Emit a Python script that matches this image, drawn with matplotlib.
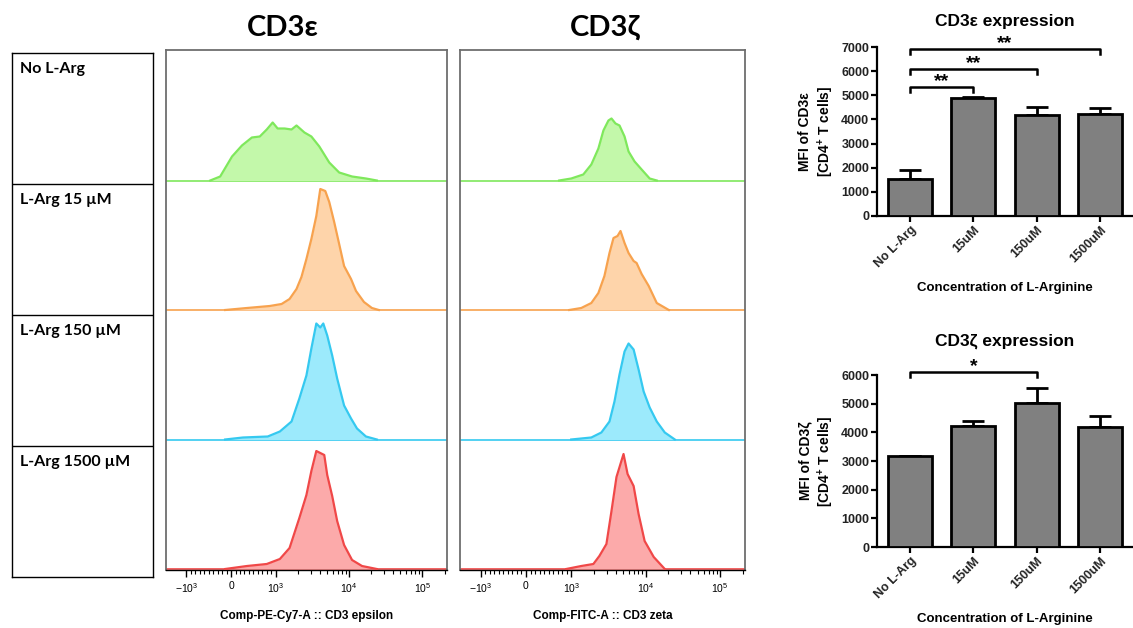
import numpy as np
import matplotlib
matplotlib.use('Agg')
import matplotlib.pyplot as plt

plt.rcParams['mathtext.fontset'] = 'custom'
plt.rcParams['mathtext.rm'] = 'Liberation Sans'
plt.rcParams['mathtext.bf'] = 'Liberation Sans:bold'

# ---- data ----
row_labels = ['No L-Arg', 'L-Arg 15 µM', 'L-Arg 150 µM', 'L-Arg 1500 µM']

# CD3 epsilon histograms (fluorescence, relative count)
eps_none_x = [-467, -244, 22, 244, 467, 644, 800, 933, 1064, 1324, 1645, 1923, 2466, 3065, 3933, 5370, 7330, 10990, 16980, 23880]
eps_none_y = [0, 4, 24, 35, 43, 44, 51, 58, 52, 52, 51, 55, 48, 44, 34, 18, 8, 4, 2, 0]
eps_15_x = [-133, 356, 867, 1205, 1546, 1923, 2245, 2624, 3065, 3580, 4054, 4741, 5370, 6270, 7330, 8556, 10640, 12440, 15960, 20470, 25420]
eps_15_y = [0, 2, 4, 6, 11, 21, 33, 51, 71, 94, 121, 119, 108, 88, 66, 44, 31, 19, 8, 2, 0]
eps_150_x = [-133, 267, 822, 1141, 1645, 2102, 2624, 3065, 3580, 4054, 4454, 5043, 5892, 6887, 8556, 10640, 12830, 16980, 23880]
eps_150_y = [0, 2, 3, 8, 18, 41, 64, 91, 116, 112, 116, 104, 84, 61, 34, 21, 11, 3, 0]
eps_1500_x = [-133, 356, 800, 1141, 1546, 2102, 2624, 3065, 3580, 4593, 5043, 5892, 6887, 8556, 10990, 15010, 23880]
eps_1500_y = [0, 3, 5, 10, 21, 51, 74, 98, 118, 114, 94, 73, 48, 24, 9, 3, 0]

# CD3 zeta histograms
zeta_none_x = [733, 1000, 1452, 1862, 2317, 2706, 3162, 3474, 3933, 4454, 5203, 5892, 7097, 8826, 11320, 14090]
zeta_none_y = [0, 2, 6, 16, 32, 50, 60, 62, 57, 55, 44, 29, 19, 11, 2, 0]
zeta_15_x = [956, 1365, 1862, 2317, 2792, 3266, 3698, 4188, 4592, 5203, 5892, 6887, 7553, 8826, 10990, 14090, 20470]
zeta_15_y = [0, 2, 7, 17, 34, 57, 72, 74, 79, 67, 57, 49, 47, 36, 24, 7, 0]
zeta_150_x = [1000, 1862, 2541, 3266, 3811, 4454, 5203, 5892, 6887, 8035, 9393, 11320, 14090, 18060, 24650]
zeta_150_y = [0, 2, 7, 18, 38, 65, 88, 96, 90, 70, 48, 32, 18, 7, 0]
zeta_1500_x = [889, 1365, 1983, 2388, 2970, 3474, 4054, 5043, 5715, 6887, 8035, 9683, 12830, 18060]
zeta_1500_y = [0, 3, 5, 13, 25, 58, 92, 115, 95, 83, 55, 28, 12, 0]

hist_ticks = [-1000, 0, 1000, 10000, 100000]
hist_ticklabels = ['$-10^3$', '0', '$10^3$', '$10^4$', '$10^5$']

# bar charts
bar_labels = ['No L-Arg', '15uM', '150uM', '1500uM']
eps_mfi = [1530, 4890, 4170, 4240]
eps_sem = [390, 30, 350, 240]
zeta_mfi = [3170, 4220, 5010, 4200]
zeta_sem = [0, 190, 520, 380]
eps_sig = [(0, 1, 5350, '**'), (0, 2, 6100, '**'), (0, 3, 6930, '**')]
zeta_sig = [(0, 2, 6120, '*')]

line_cols = ['#7fe85c', '#f7a24e', '#35c9f0', '#f04848']
fill_cols = ['#c3f8aa', '#fed4aa', '#9ceafc', '#fcaaaa']

W, H = 1133, 628
fig = plt.figure(figsize=(W / 100, H / 100), dpi=100)


def px_axes(x0, y0, x1, y1):
    return fig.add_axes([x0 / W, 1 - y1 / H, (x1 - x0) / W, (y1 - y0) / H])


lab_font = ['Lato', 'Open Sans', 'DejaVu Sans']

# ---- left label box ----
lab = px_axes(12, 53, 153, 577)
lab.set_xlim(0, 1)
lab.set_ylim(0, 4)
lab.set_xticks([])
lab.set_yticks([])
for s in lab.spines.values():
    s.set_linewidth(1.0)
for i, t in enumerate(row_labels):
    if i > 0:
        lab.axhline(4 - i, color='black', lw=1.0)
    lab.text(0.06, 4 - i - 0.065, t, ha='left', va='top', fontsize=11.5,
             fontweight='bold', family=lab_font)

# ---- histograms ----
def draw_hist(x0, x1, curves, xlabel, title, title_x):
    ax = px_axes(x0, 50, x1, 570)
    ax.set_xscale('symlog', linthresh=1000, linscale=0.547)
    ax.set_xlim(-1900, 216000)
    ax.set_ylim(0, 520)
    for i, (xs, ys) in enumerate(curves):
        base = (3 - i) * 129.5 + 1
        ax.axhline(base, color=line_cols[i], lw=1.2, zorder=1)
        top = np.array(ys) + base
        ax.fill_between(xs, base, top, color=fill_cols[i], lw=0, zorder=2)
        ax.plot(xs, top, color=line_cols[i], lw=1.6, zorder=3)
    for k in ['left', 'top', 'right']:
        ax.spines[k].set_color('#6e6e6e')
        ax.spines[k].set_linewidth(1.3)
    ax.spines['bottom'].set_linewidth(1.0)
    ax.set_yticks([])
    ax.set_xticks(hist_ticks)
    ax.set_xticklabels(hist_ticklabels, fontsize=7.5, family='Liberation Sans')
    minor = list(range(-900, 0, 100)) + list(range(100, 1000, 100)) + \
        list(range(2000, 10000, 1000)) + list(range(20000, 100000, 10000)) + [200000]
    ax.set_xticks(minor, minor=True)
    ax.tick_params(axis='x', which='major', length=5, width=1.0, pad=3)
    ax.tick_params(axis='x', which='minor', length=3, width=0.8)
    ax.set_xlabel(xlabel, fontsize=8.5, fontweight='bold', family='Liberation Sans', labelpad=11)
    fig.text(title_x / W, 1 - 28 / H, title, ha='center', va='center', fontsize=21,
             fontweight='bold', family=lab_font)
    return ax


draw_hist(166, 447, [(eps_none_x, eps_none_y), (eps_15_x, eps_15_y),
                     (eps_150_x, eps_150_y), (eps_1500_x, eps_1500_y)],
          'Comp-PE-Cy7-A :: CD3 epsilon', 'CD3ε', 283)
draw_hist(460, 745, [(zeta_none_x, zeta_none_y), (zeta_15_x, zeta_15_y),
                     (zeta_150_x, zeta_150_y), (zeta_1500_x, zeta_1500_y)],
          'Comp-FITC-A :: CD3 zeta', 'CD3ζ', 605)


# ---- bar charts ----
def draw_bars(y0, y1, vals, errs, sigs, ymax, title, ylab, tpad):
    ax = px_axes(877, y0, 1133, y1)
    x = np.arange(len(vals))
    ax.bar(x, vals, width=0.69, color='#808080', edgecolor='black', linewidth=2.0, zorder=3)
    ax.errorbar(x, vals, yerr=[np.zeros(len(vals)), errs], fmt='none', ecolor='black',
                elinewidth=2.0, capsize=8, capthick=2.0, zorder=2)
    ax.set_xlim(-0.52, 3.52)
    ax.set_ylim(0, ymax)
    ax.set_yticks(np.arange(0, ymax + 1, 1000))
    ax.set_xticks(x)
    ax.set_xticklabels(bar_labels, rotation=45, ha='right', rotation_mode='anchor')
    for lbl in ax.get_xticklabels() + ax.get_yticklabels():
        lbl.set_fontsize(9)
        lbl.set_fontweight('bold')
        lbl.set_family('Liberation Sans')
        lbl.set_color('#222222')
    ax.spines['top'].set_visible(False)
    ax.spines['right'].set_visible(False)
    ax.spines['left'].set_linewidth(1.6)
    ax.spines['bottom'].set_linewidth(1.6)
    ax.tick_params(width=1.6, length=4, pad=1.5)
    ax.set_ylabel(ylab, fontsize=10, fontweight='bold', family='Liberation Sans', labelpad=4)
    ax.set_xlabel('Concentration of L-Arginine', fontsize=9.5, fontweight='bold',
                  family='Liberation Sans', labelpad=9)
    ax.set_title(title, fontsize=12.5, fontweight='bold', family=['Liberation Sans', 'DejaVu Sans'], pad=tpad)
    d = ymax * 0.03
    for a, b, y, s in sigs:
        ax.plot([a, a, b, b], [y - d, y, y, y - d], color='black', lw=1.8, clip_on=False)
        ax.text((a + b) / 2, y - ymax * 0.02, s, ha='center', va='bottom', fontsize=14,
                fontweight='bold', family='Liberation Sans')
    return ax


draw_bars(47, 216, eps_mfi, eps_sem, eps_sig, 7000, 'CD3ε expression',
          'MFI of CD3ε\n[CD4$^{\\bf{+}}$ T cells]', 15)
draw_bars(375, 547, zeta_mfi, zeta_sem, zeta_sig, 6000, 'CD3ζ expression',
          'MFI of CD3ζ\n[CD4$^{\\bf{+}}$ T cells]', 21)

fig.savefig('out.png', dpi=100)
